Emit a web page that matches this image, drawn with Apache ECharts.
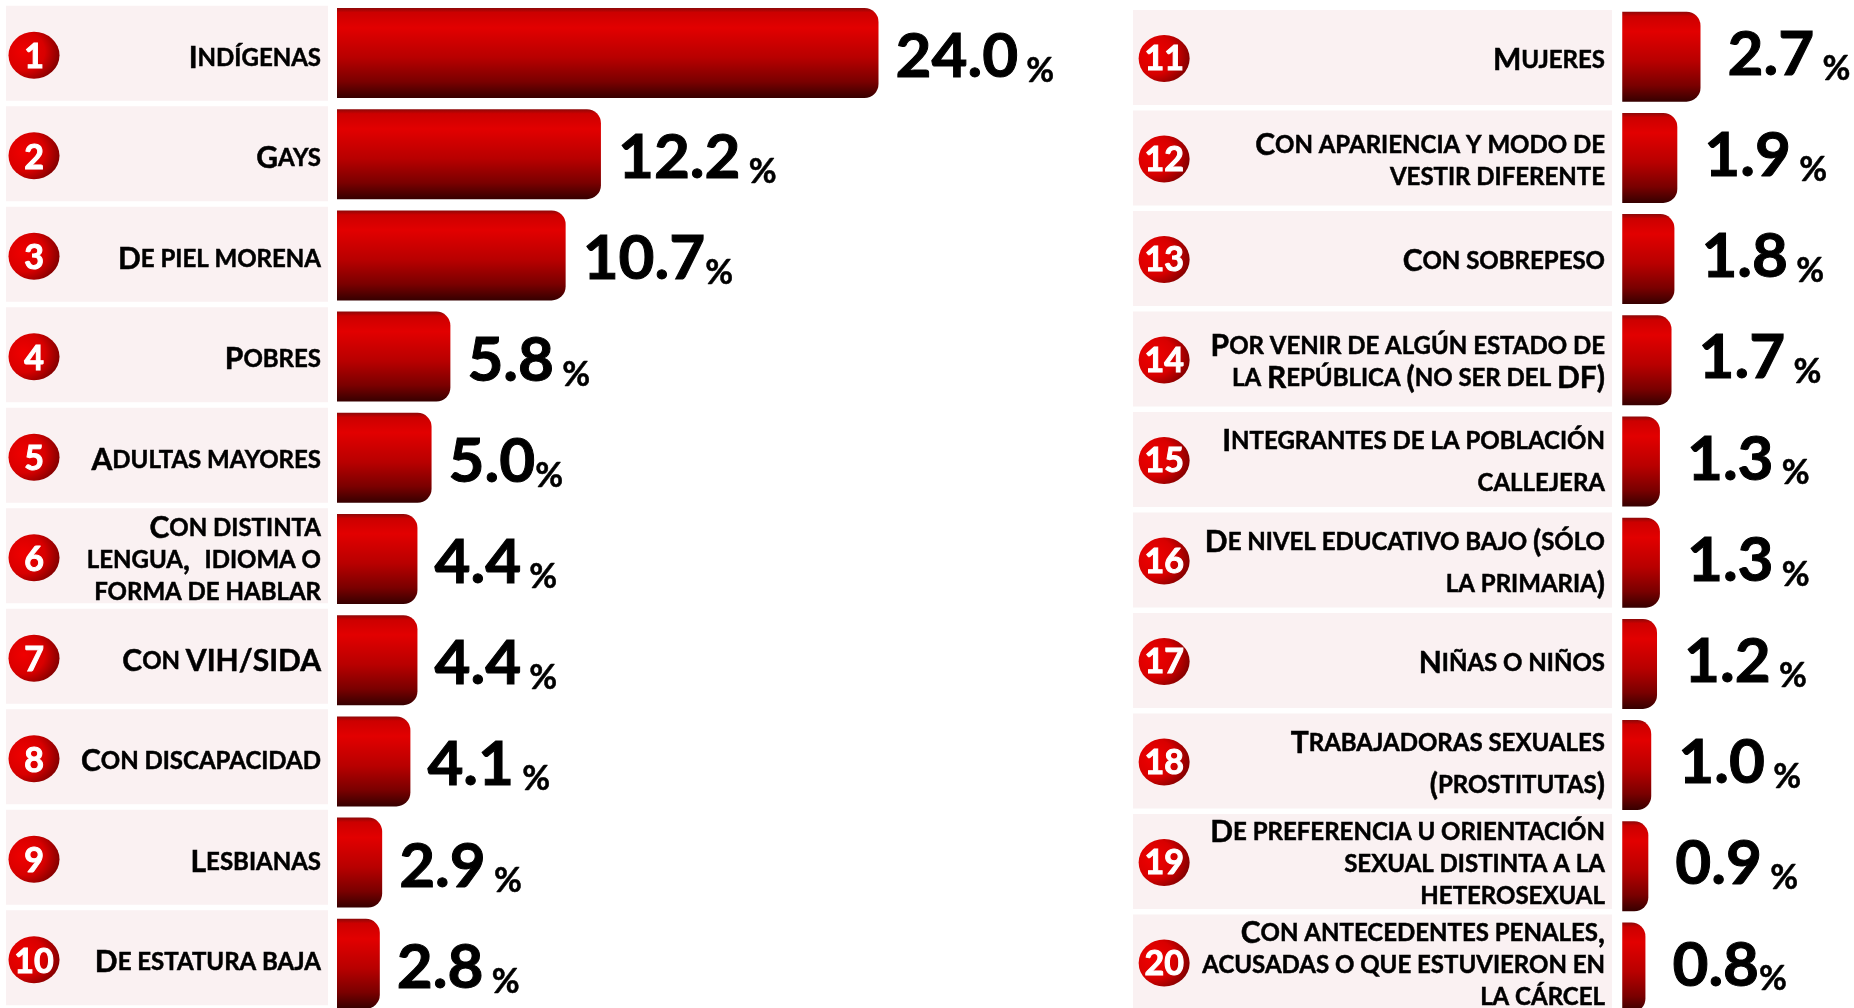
<!DOCTYPE html>
<html>
<head>
    <meta charset="utf-8">
    <title>ECharts</title>
    <script src="https://cdn.jsdelivr.net/npm/echarts@6/dist/echarts.min.js"></script>
    <style>
        html, body { margin: 0; padding: 0; background: #fff; overflow: hidden; }
    </style>
</head>
<body>
    <div id="chart" style="width: 1854px;height:1008px;"></div>
    <script type="text/javascript">
        var leftRanks = [1, 2, 3, 4, 5, 6, 7, 8, 9, 10];
        var leftNames = ['Indígenas', 'Gays', 'De piel morena', 'Pobres', 'Adultas mayores',
            'Con distinta\nlengua,  idioma o\nforma de hablar', 'Con VIH/SIDA', 'Con discapacidad',
            'Lesbianas', 'De estatura baja'];
        var leftValues = [24.0, 12.2, 10.7, 5.8, 5.0, 4.4, 4.4, 4.1, 2.9, 2.8];

        var rightRanks = [11, 12, 13, 14, 15, 16, 17, 18, 19, 20];
        var rightNames = ['Mujeres', 'Con apariencia y modo de\nvestir diferente', 'Con sobrepeso',
            'Por venir de algún estado de\nla República (no ser del DF)',
            'Integrantes de la población\ncallejera', 'De nivel educativo bajo (sólo\nla primaria)',
            'Niñas o niños', 'Trabajadoras sexuales\n(prostitutas)',
            'De preferencia u orientación\nsexual distinta a la\nheterosexual',
            'Con antecedentes penales,\nacusadas o que estuvieron en\nla cárcel'];
        var rightValues = [2.7, 1.9, 1.8, 1.7, 1.3, 1.3, 1.2, 1.0, 0.9, 0.8];

        // filas con el texto mas separado y con el % pegado a la cifra
        var wideRows = [15, 16, 18];
        var tightPercent = [3, 5, 20];

        var font = 'Lato';

        // versalitas: las minusculas se escriben en mayuscula mas chica
        function smallCaps(text, wide) {
            var big = wide ? 'c2' : 'c', small = wide ? 's2' : 's';
            return text.split('\n').map(function (line) {
                var out = '', run = '', runLow = false;
                for (var i = 0; i < line.length; i++) {
                    var ch = line[i];
                    var low = ch === ' ' ? runLow : ch !== ch.toUpperCase();
                    if (low !== runLow && run) {
                        out += '{' + (runLow ? small : big) + '|' + run + '}';
                        run = '';
                    }
                    runLow = low;
                    run += ch.toUpperCase();
                }
                return out + '{' + (runLow ? small : big) + '|' + run + '}';
            }).join('\n');
        }

        function nameStyle(size, height) {
            return {
                fontFamily: font, fontWeight: 700, fontSize: size, color: '#000', lineHeight: height,
                align: 'right', textBorderColor: '#000', textBorderWidth: 0.5
            };
        }

        var barColor = {
            type: 'linear', x: 0, y: 0, x2: 0, y2: 1,
            colorStops: [
                { offset: 0, color: '#8c0808' },
                { offset: 0.05, color: '#cc0000' },
                { offset: 0.22, color: '#e20000' },
                { offset: 0.55, color: '#b80000' },
                { offset: 0.82, color: '#7a0000' },
                { offset: 1, color: '#360000' }
            ]
        };
        var badgeColor = {
            type: 'radial', x: 0.3, y: 0.42, r: 0.75,
            colorStops: [
                { offset: 0, color: '#f00000' },
                { offset: 0.55, color: '#d80000' },
                { offset: 1, color: '#780000' }
            ]
        };

        var grids = [], xAxes = [], yAxes = [], series = [];

        function addPanel(ranks, names, values, box) {
            var labelIdx = grids.length;
            var barIdx = labelIdx + 1;
            grids.push({ left: box.panelLeft, width: box.panelWidth, top: box.panelTop, height: 1005, outerBoundsMode: 'none' });
            grids.push({ left: box.barLeft, width: box.barWidth, top: box.barTop, height: 1012, outerBoundsMode: 'none' });

            xAxes.push({ gridIndex: labelIdx, type: 'value', min: 0, max: 1, show: false });
            xAxes.push({ gridIndex: barIdx, type: 'value', min: box.min, max: box.max, show: false });
            [labelIdx, barIdx].forEach(function (g) {
                yAxes.push({ gridIndex: g, type: 'category', inverse: true, data: ranks, show: false });
            });

            // franja clara con el texto de cada fila
            series.push({
                type: 'bar', xAxisIndex: labelIdx, yAxisIndex: labelIdx, barWidth: 95, silent: true,
                animation: false,
                data: names.map(function (name, i) {
                    return {
                        value: 1,
                        label: { formatter: smallCaps(name, wideRows.indexOf(ranks[i]) >= 0) }
                    };
                }),
                itemStyle: { color: '#faf1f2' },
                label: {
                    show: true, position: 'insideRight', distance: 7, align: 'right', offset: [0, box.textShift],
                    rich: {
                        c: nameStyle(30, 32),
                        s: nameStyle(24, 32),
                        c2: nameStyle(30, 42),
                        s2: nameStyle(24, 42)
                    }
                }
            });

            // circulo con el numero de lugar
            series.push({
                type: 'scatter', xAxisIndex: labelIdx, yAxisIndex: labelIdx, silent: true, animation: false,
                symbol: 'circle', symbolSize: [51, 47], symbolOffset: [0, box.badgeShift], z: 5,
                data: ranks.map(function (r, i) { return [box.badgeAt, i]; }),
                itemStyle: { color: badgeColor, opacity: 1 },
                label: {
                    show: true, position: 'inside', offset: [0, box.badgeShift],
                    formatter: function (p) { return String(ranks[p.dataIndex]); },
                    fontFamily: font, fontWeight: 700, fontSize: 34, color: '#fff',
                    textBorderColor: '#fff', textBorderWidth: 1
                }
            });

            // barras
            series.push({
                type: 'bar', xAxisIndex: barIdx, yAxisIndex: barIdx, barWidth: 90, silent: true,
                animation: false,
                data: values,
                itemStyle: { color: barColor, borderRadius: [0, 14, 14, 0] },
                label: {
                    show: true, position: 'right', distance: box.valueGap, offset: [0, box.valueShift],
                    formatter: function (p) {
                        var gap = tightPercent.indexOf(ranks[p.dataIndex]) >= 0 ? '' : ' ';
                        return '{v|' + p.value.toFixed(1) + '}{p|' + gap + '%}';
                    },
                    rich: {
                        v: { fontFamily: font, fontWeight: 700, fontSize: 62, color: '#000', lineHeight: 62, textBorderColor: '#000', textBorderWidth: 1 },
                        p: { fontFamily: font, fontWeight: 700, fontSize: 34, color: '#000', lineHeight: 54, verticalAlign: 'bottom', textBorderColor: '#000', textBorderWidth: 0.5 }
                    }
                }
            });
        }

        addPanel(leftRanks, leftNames, leftValues, {
            panelLeft: 6, panelWidth: 322, panelTop: 3, barLeft: 337, barWidth: 541.5, barTop: 2.4,
            min: 0.98, max: 24, badgeAt: 0.087, badgeShift: 2, valueGap: 17, valueShift: 4, textShift: 5
        });
        addPanel(rightRanks, rightNames, rightValues, {
            panelLeft: 1133, panelWidth: 479, panelTop: 7.25, barLeft: 1620.5, barWidth: 80, barTop: 6.1,
            min: -0.06, max: 2.7, badgeAt: 0.065, badgeShift: 1, valueGap: 27, valueShift: -2, textShift: 3
        });

        var myChart = echarts.init(document.getElementById('chart'));
        myChart.setOption({
            animation: false,
            backgroundColor: '#fff',
            grid: grids,
            xAxis: xAxes,
            yAxis: yAxes,
            series: series
        });
    </script>
</body>
</html>
